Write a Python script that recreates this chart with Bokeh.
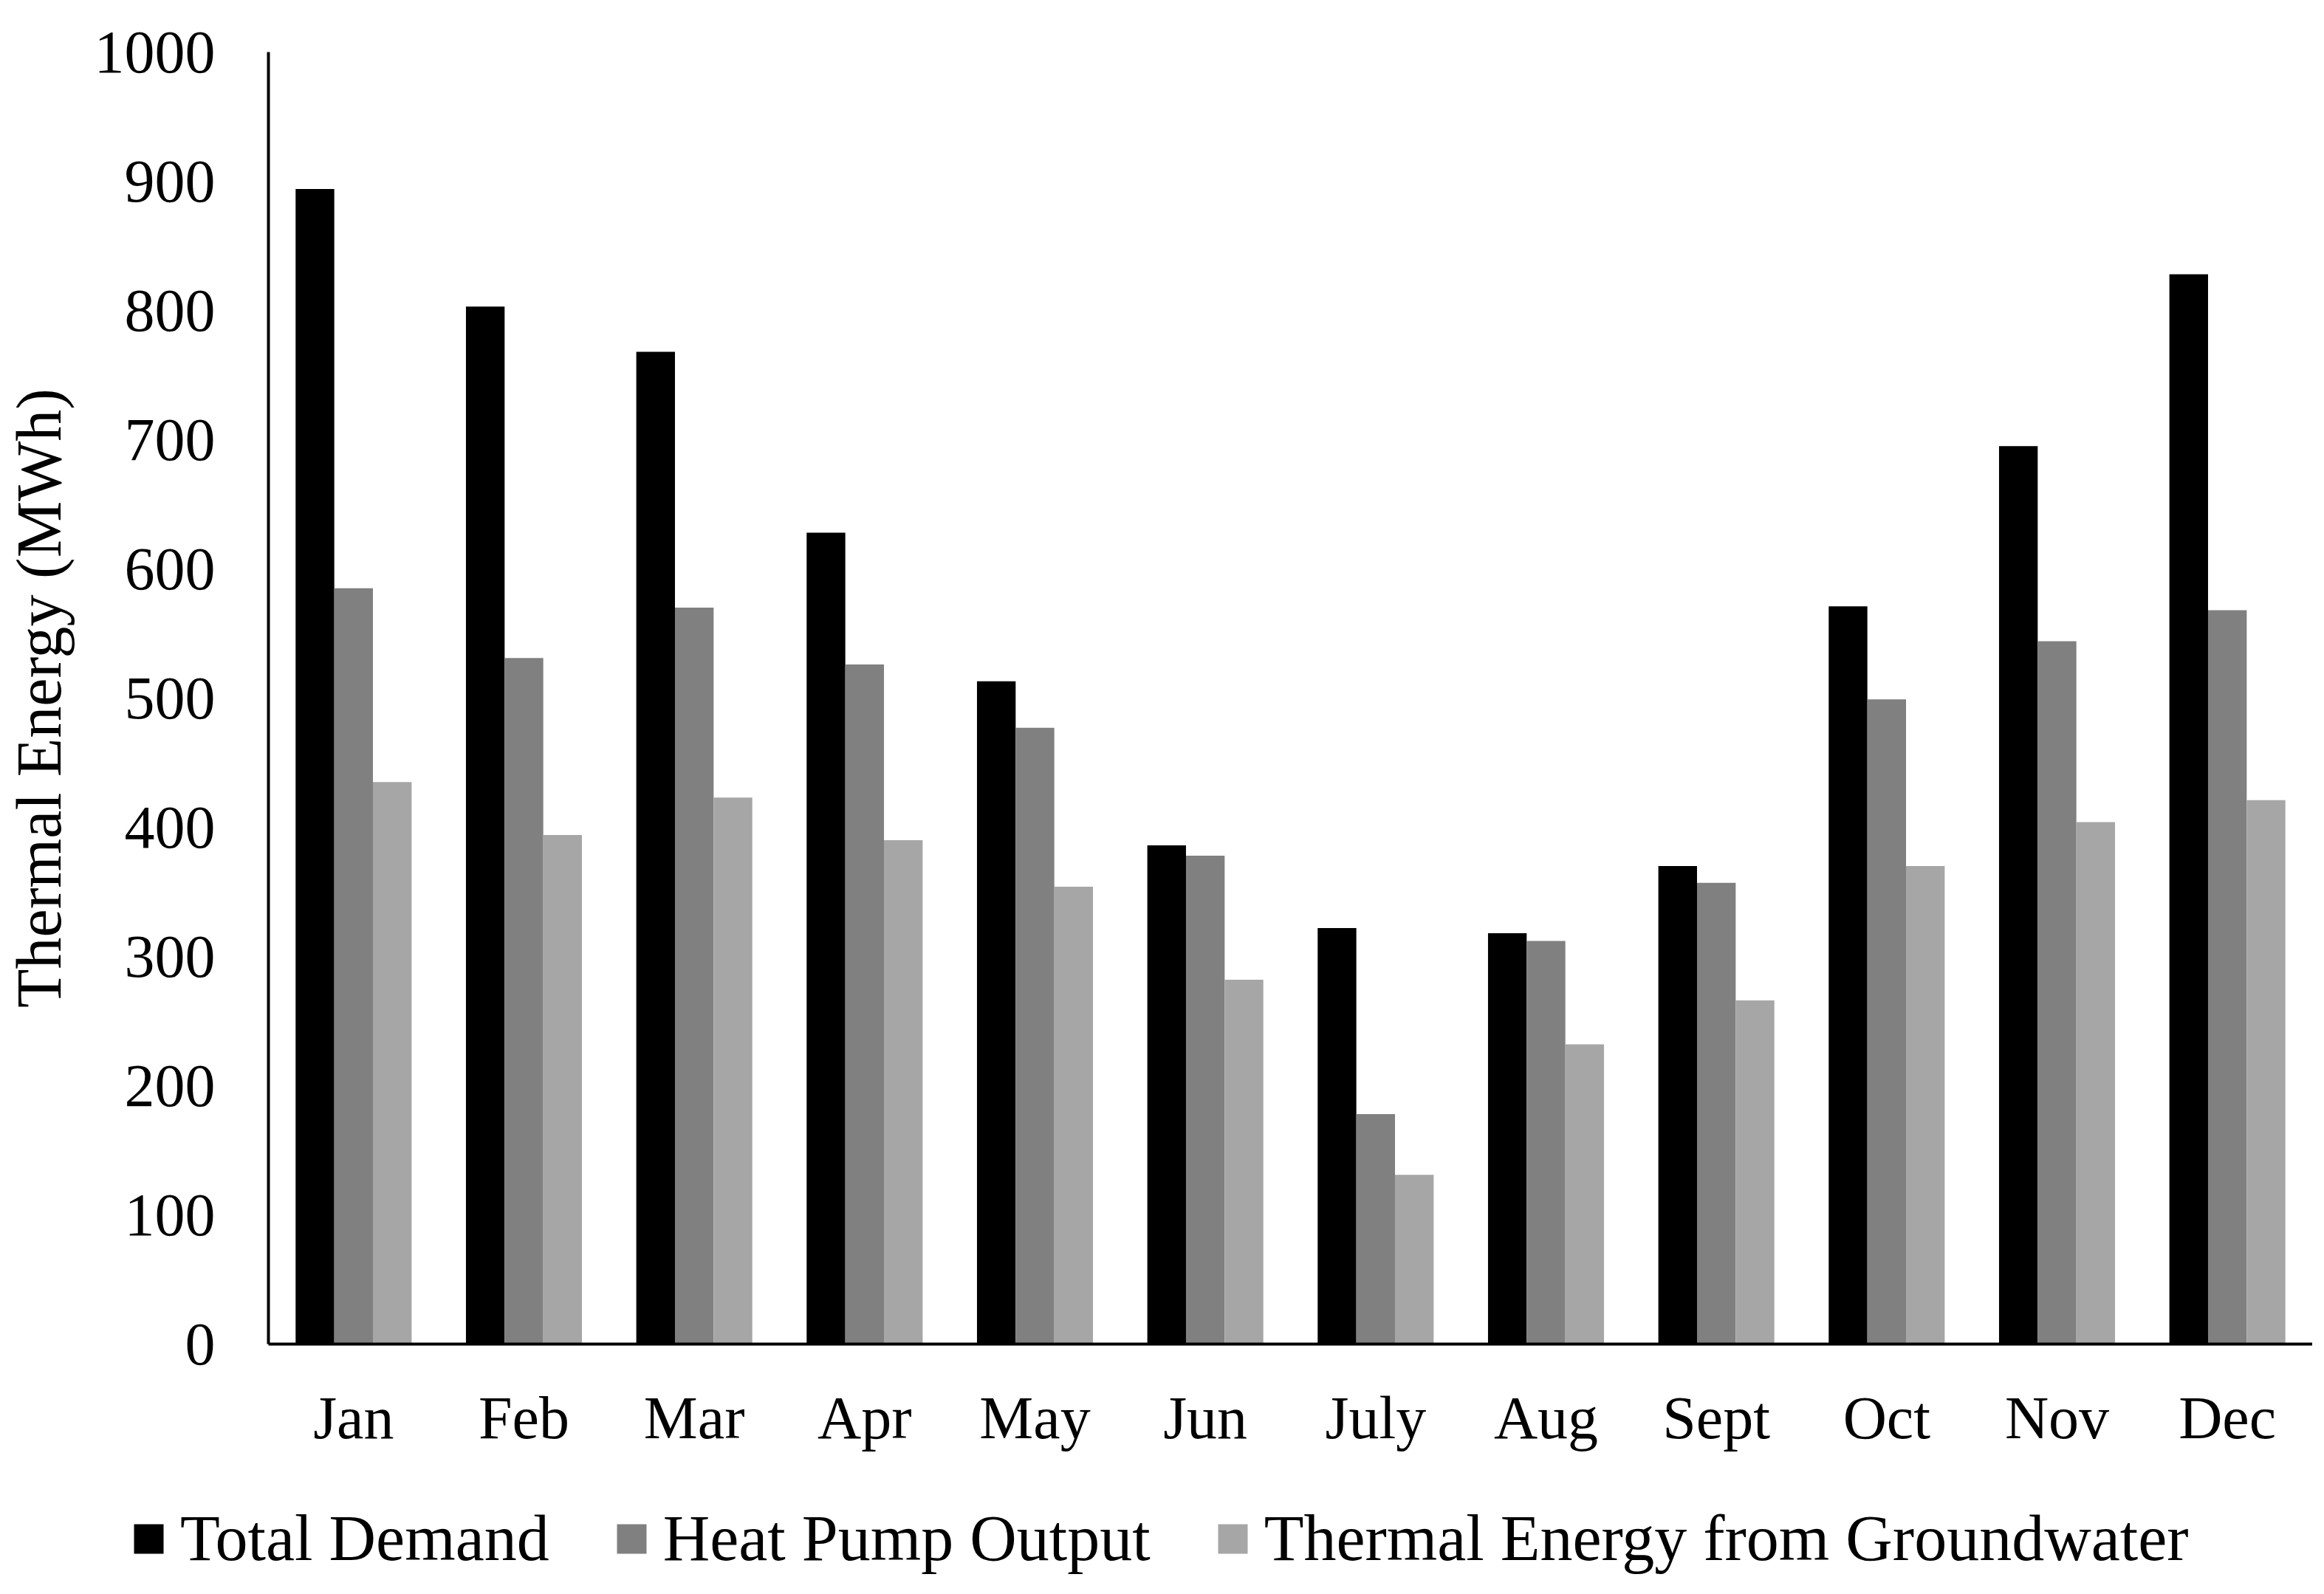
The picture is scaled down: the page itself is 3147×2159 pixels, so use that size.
from bokeh.plotting import figure
from bokeh.models import ColumnDataSource, Range1d, FixedTicker, Legend, LegendItem
from bokeh.transform import dodge
from bokeh.embed import file_html
from bokeh.resources import INLINE

months = ["Jan", "Feb", "Mar", "Apr", "May", "Jun", "July", "Aug", "Sept", "Oct", "Nov", "Dec"]
total_demand = [894, 803, 768, 628, 513, 386, 322, 318, 370, 571, 695, 828]
heat_pump_output = [585, 531, 570, 526, 477, 378, 178, 312, 357, 499, 544, 568]
groundwater = [435, 394, 423, 390, 354, 282, 131, 232, 266, 370, 404, 421]
y_ticks = [0, 100, 200, 300, 400, 500, 600, 700, 800, 900, 1000]

series_names = ["Total Demand", "Heat Pump Output", "Thermal Energy from Groundwater"]
colors = ["#000000", "#808080", "#A6A6A6"]

# category centres on a numeric axis (one unit per month)
xc = [i + 0.5 for i in range(len(months))]
src = ColumnDataSource(dict(xc=xc, month=months, td=total_demand, hp=heat_pump_output, gw=groundwater))

FONT = "Liberation Serif"
W, H = 3131, 2143
TOP, LEFT_PLOT, RIGHT_EDGE = 70, 363, 3131   # pixel positions of value 1000, x=0 and x=12
BOTTOM = 1820                                 # pixel position of value 0
px_per_cat = (RIGHT_EDGE - LEFT_PLOT) / len(months)
px_per_unit = (BOTTOM - TOP) / 1000.0
x_start = -LEFT_PLOT / px_per_cat
x_end = len(months) + (W - RIGHT_EDGE) / px_per_cat
y_end = 1000 + TOP / px_per_unit
y_start = -(H - BOTTOM) / px_per_unit

p = figure(width=W, height=H, x_range=Range1d(x_start, x_end), y_range=Range1d(y_start, y_end),
           output_backend="svg", toolbar_location=None,
           min_border_left=0, min_border_top=0, min_border_right=0, min_border_bottom=0)

bw = 0.227
r1 = p.vbar(x=dodge("xc", -bw), top="td", width=bw, source=src, fill_color=colors[0], line_color=None)
r2 = p.vbar(x=dodge("xc", 0.0), top="hp", width=bw, source=src, fill_color=colors[1], line_color=None)
r3 = p.vbar(x=dodge("xc", bw), top="gw", width=bw, source=src, fill_color=colors[2], line_color=None)

p.xgrid.grid_line_color = None
p.ygrid.grid_line_color = None
p.outline_line_color = None
p.background_fill_color = "white"
p.border_fill_color = "white"

xa = p.xaxis[0]
ya = p.yaxis[0]
xa.fixed_location = 0
ya.fixed_location = 0
xa.bounds = (0, len(months))
ya.bounds = (0, 1000)
xa.ticker = FixedTicker(ticks=xc)
xa.major_label_overrides = {x: m for x, m in zip(xc, months)}
ya.ticker = FixedTicker(ticks=y_ticks)

ya.axis_label = "Thermal Energy (MWh)"
ya.axis_label_text_font = FONT
ya.axis_label_text_font_style = "normal"
ya.axis_label_text_font_size = "86px"
ya.axis_label_text_color = "black"
ya.axis_label_standoff = 24

for ax in (xa, ya):
    ax.major_tick_line_color = None
    ax.minor_tick_line_color = None
    ax.axis_line_color = "black"
    ax.axis_line_width = 4
    ax.major_label_text_font = FONT
    ax.major_label_text_font_size = "82px"
    ax.major_label_text_color = "black"

ya.major_label_standoff = 66
xa.major_label_standoff = 48

legend = Legend(items=[LegendItem(label=series_names[0], renderers=[r1]),
                       LegendItem(label=series_names[1], renderers=[r2]),
                       LegendItem(label=series_names[2], renderers=[r3])],
                orientation="horizontal", location=(176, 9),
                label_text_font=FONT, label_text_font_size="88px", label_text_color="black",
                glyph_width=50, glyph_height=50, label_standoff=18, spacing=86,
                border_line_color=None, background_fill_alpha=0, padding=0, margin=0)
p.add_layout(legend, "center")

open("out.html", "w").write(file_html(p, INLINE))
